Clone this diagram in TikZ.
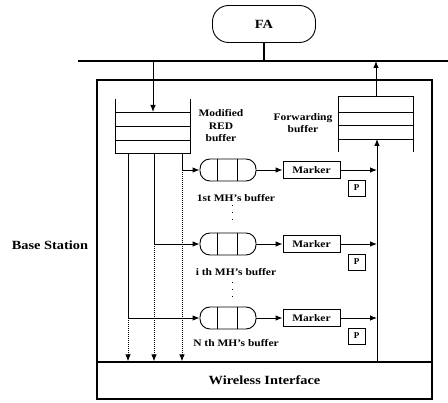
\documentclass[tikz,border=0pt]{standalone}
\usepackage{fontspec}
\setmainfont{Liberation Serif}
\usetikzlibrary{arrows.meta,calc}
\newcommand{\wt}[1]{\scalebox{1.15}[1]{#1}}
\begin{document}
\begin{tikzpicture}[x=1pt,y=-1pt,
  line width=0.9pt,
  arr/.style={-{Latex[length=7pt,width=5.5pt]}},
  big/.style={font=\fontsize{12.5}{14}\selectfont\bfseries},
  small/.style={font=\fontsize{10}{12.5}\selectfont\bfseries},
  queue/.style={draw,rounded corners=10pt,minimum width=56pt,minimum height=22pt,inner sep=0pt},
  markerbox/.style={draw,minimum width=57pt,minimum height=17pt,inner sep=0pt,small},
  pbox/.style={draw,minimum width=17pt,minimum height=16pt,inner sep=0pt,font=\fontsize{9}{10}\selectfont\bfseries},
  buf/.style={minimum width=74pt,minimum height=54pt,inner sep=0pt},
  dots/.style={densely dotted,line width=1pt}
]
\useasboundingbox (0,0) rectangle (448,403);

% FA and bus
\node[draw,rounded corners=16pt,minimum width=103pt,minimum height=37pt,big] (fa) at (264,24) {\wt{FA}};
\coordinate (busL) at (78,61);
\coordinate (busR) at (448,61);
\draw[line width=1.4pt] (busL) -- (busR);
\draw[line width=1.4pt] (fa.south) -- (fa.south |- busL);

% Base station and wireless interface
\node[draw,line width=1.3pt,minimum width=335pt,minimum height=319pt,inner sep=0pt] (bs) at (264.5,239.5) {};
\node[draw,line width=1.2pt,minimum width=335pt,minimum height=37pt,inner sep=0pt,big] (wi) at (264.5,380.5) {\wt{Wireless Interface}};
\node[big] (bslabel) at (50,245) {\wt{Base Station}};

% Modified RED buffer (open top)
\node[buf] (red) at (153,126) {};
\draw (red.north west) -- (red.south west) -- (red.south east) -- (red.north east);
\foreach \yy in {112,126,140} \draw (red.west |- 0,\yy) -- (red.east |- 0,\yy);
\node[small,align=center] (redlabel) at (221,126) {\wt{Modified}\\\wt{RED}\\\wt{buffer}};
\coordinate (redin) at (153,112);
\draw[arr] (redin |- busL) -- (redin);

% Forwarding buffer (open bottom)
\node[buf,minimum height=55pt] (fwd) at (376,124.5) {};
\draw (fwd.south west) -- (fwd.north west) -- (fwd.north east) -- (fwd.south east);
\foreach \yy in {112,125,139} \draw (fwd.west |- 0,\yy) -- (fwd.east |- 0,\yy);
\node[small,align=center] (fwdlabel) at (303,123) {\wt{Forwarding}\\\wt{buffer}};
\draw[arr] (fwd.north) -- (fwd.north |- busL);

% collecting line up to forwarding buffer
\coordinate (colbot) at (377,362);
\coordinate (coltop) at (377,139);
\draw[arr] (colbot) -- (coltop);

% MH rows
\foreach \n/\yy/\bx/\lab/\ly in {1/170/182/1st MH's buffer/198, i/244/154/i th MH's buffer/272, N/318/128/N th MH's buffer/343}{
  \node[queue] (q\n) at (228,\yy) {};
  \draw ([xshift=18pt]q\n.north west) -- ([xshift=18pt]q\n.south west);
  \draw ([xshift=38pt]q\n.north west) -- ([xshift=38pt]q\n.south west);
  \node[markerbox] (m\n) at (311.5,\yy) {\wt{Marker}};
  \node[pbox] (p\n) at (356.5,\yy+18) {P};
  \node[small] (l\n) at (236,\ly) {\wt{\lab}};
  \coordinate (br\n) at (\bx,\yy);
  \draw[arr] (red.south west -| br\n) -- (br\n) -- (q\n.west);
  \draw[arr] (q\n.east) -- (m\n.west);
  \draw[arr] (m\n.east) -- (m\n.east -| colbot);
  \draw[arr,dots] (br\n) -- (br\n |- wi.north);
}

% vertical dots between queues
\coordinate (d1a) at (232,205);
\coordinate (d1b) at (232,226);
\coordinate (d2a) at (232,282);
\coordinate (d2b) at (232,302);
\draw[dash pattern=on 1pt off 6pt,line width=1pt] (d1a) -- (d1b);
\draw[dash pattern=on 1pt off 6pt,line width=1pt] (d2a) -- (d2b);
\end{tikzpicture}
\end{document}
